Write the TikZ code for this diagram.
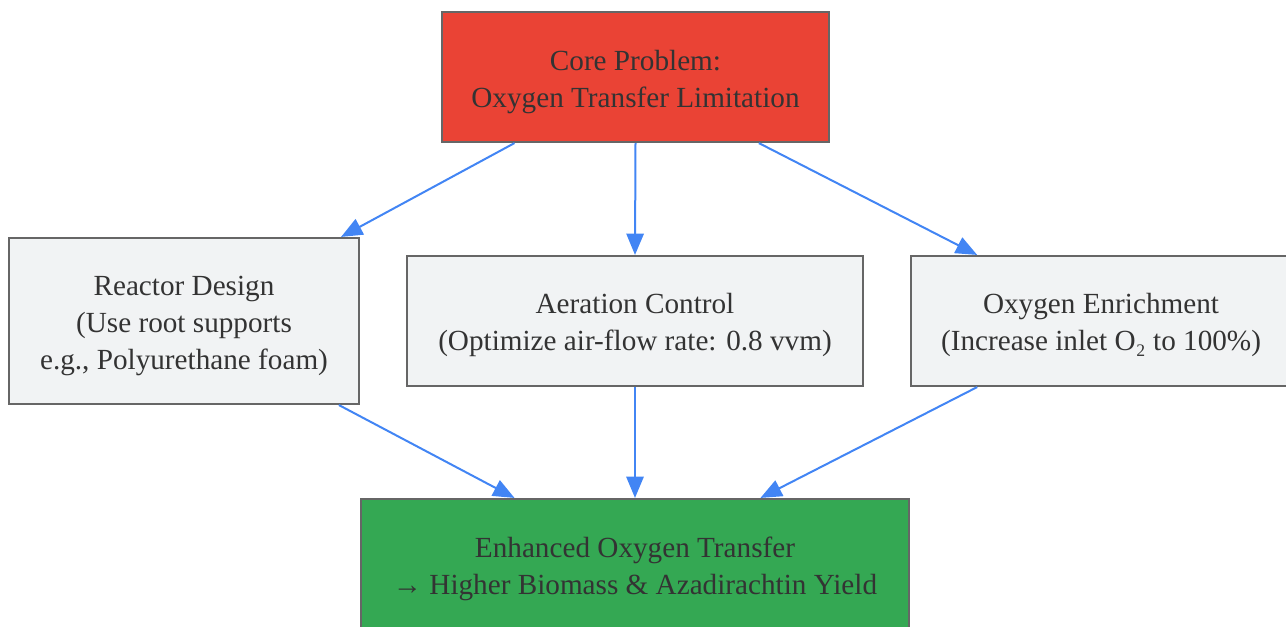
\documentclass[tikz,border=0pt]{standalone}
\usepackage{fontspec}
\setmainfont{Liberation Serif}
\usetikzlibrary{arrows.meta,calc}
\definecolor{edgeblue}{HTML}{4285F4}
\definecolor{boxgray}{HTML}{F1F3F4}
\definecolor{bordergray}{HTML}{666666}
\definecolor{corered}{HTML}{EA4335}
\definecolor{okgreen}{HTML}{34A853}
\definecolor{txt}{HTML}{333333}
\tikzset{
  box/.style={draw=bordergray, line width=1.6pt, rectangle, align=center, text=txt,
    font=\fontsize{21.9}{27.75}\selectfont, inner sep=0pt},
  lbl/.style={align=center, text=txt, font=\fontsize{21.9}{27.75}\selectfont, inner sep=0pt},
  conn/.style={draw=edgeblue, line width=1.5pt, -{Triangle[length=16pt,width=13pt]}}
}
\begin{document}
\begin{tikzpicture}[x=0.75pt,y=-0.75pt]
\clip (0,0) rectangle (1286,626);
\node[box, fill=corered, minimum width=387*0.75pt, minimum height=130*0.75pt] (core) at (635.5,77) {};
\node[box, fill=boxgray, minimum width=350*0.75pt, minimum height=166*0.75pt] (reactor) at (184,321) {};
\node[box, fill=boxgray, minimum width=456*0.75pt, minimum height=130*0.75pt] (aer) at (635,321) {};
\node[box, fill=boxgray, minimum width=380*0.75pt, minimum height=130*0.75pt] (enr) at (1101,321) {};
\node[box, fill=okgreen, minimum width=548*0.75pt, minimum height=133*0.75pt] (out) at (635,565.5) {};
\node[lbl] (coret) at ($(core)+(0,5)$) {Core Problem:\\Oxygen Transfer Limitation};
\node[lbl] (reactort) at ($(reactor)+(0,5)$) {Reactor Design\\(Use root supports\\e.g., Polyurethane foam)};
\node[lbl] (aert) at ($(aer)+(0,4)$) {Aeration Control\\(Optimize air-flow rate: 0.8 vvm)};
\node[lbl] (enrt) at ($(enr)+(0,4)$) {Oxygen Enrichment\\(Increase inlet O₂ to 100\%)};
\node[lbl] (outt) at ($(out)+(0,3)$) {Enhanced Oxygen Transfer\\→ Higher Biomass \& Azadirachtin Yield};
\draw[conn] ($(core.south west)!0.189!(core.south east)$) -- ($(reactor.north west)!0.946!(reactor.north east)$);
\draw[conn] (core.south) -- (aer.north);
\draw[conn] ($(core.south west)!0.817!(core.south east)$) -- ($(enr.north west)!0.176!(enr.north east)$);
\draw[conn] ($(reactor.south west)!0.94!(reactor.south east)$) -- ($(out.north west)!0.281!(out.north east)$);
\draw[conn] (aer.south) -- (out.north);
\draw[conn] ($(enr.south west)!0.176!(enr.south east)$) -- ($(out.north west)!0.728!(out.north east)$);
\end{tikzpicture}
\end{document}
